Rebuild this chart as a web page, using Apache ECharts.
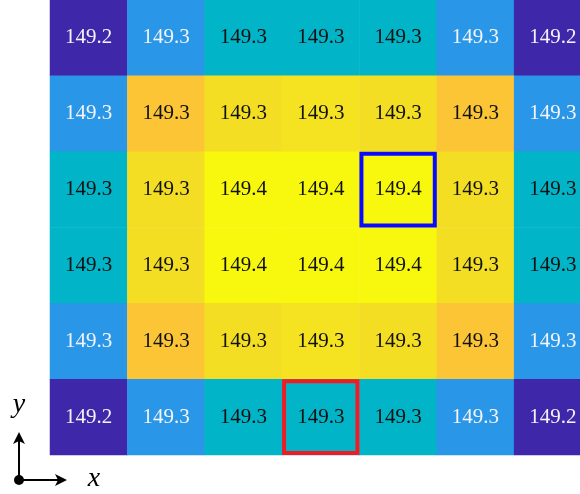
<!DOCTYPE html>
<html>
<head>
<meta charset="utf-8">
<script src="https://cdn.jsdelivr.net/npm/echarts@6/dist/echarts.min.js"></script>
<style>
  html, body { margin: 0; padding: 0; background: #ffffff; overflow: hidden; }
  /* the last column runs past the right edge of the window */
  #chart { width: 592px; height: 494px; }
</style>
</head>
<body>
<div id="chart"></div>
<script>
// Column and row indices of the field grid (row 0 is drawn at the top)
const xCategories = ['0', '1', '2', '3', '4', '5', '6'];
const yCategories = ['0', '1', '2', '3', '4', '5'];

// Field values, one array per row, top to bottom
const row0 = [149.22, 149.26, 149.30, 149.30, 149.30, 149.26, 149.22];
const row1 = [149.26, 149.33, 149.34, 149.343, 149.34, 149.33, 149.26];
const row2 = [149.30, 149.34, 149.37, 149.37, 149.37, 149.34, 149.30];
const row3 = [149.30, 149.34, 149.37, 149.37, 149.37, 149.34, 149.30];
const row4 = [149.26, 149.33, 149.34, 149.343, 149.34, 149.33, 149.26];
const row5 = [149.22, 149.26, 149.30, 149.30, 149.30, 149.26, 149.22];
const rows = [row0, row1, row2, row3, row4, row5];

// Highlighted cells: [column, row]
const blueCell = [4, 2];
const redCell = [3, 5];

const cellData = [];
rows.forEach((row, r) => {
  row.forEach((v, c) => {
    cellData.push({
      value: [c, r, v],
      label: { color: v < 149.28 ? '#f4f4f8' : '#111111' }
    });
  });
});

const chart = echarts.init(document.getElementById('chart'), null, { renderer: 'canvas' });

chart.setOption({
  animation: false,
  backgroundColor: '#ffffff',
  grid: { left: 50, top: 0, width: 541.5, height: 455, containLabel: false },
  xAxis: {
    type: 'category', data: xCategories, show: false,
    axisLine: { show: false }, axisTick: { show: false }, splitLine: { show: false }
  },
  yAxis: {
    type: 'category', data: yCategories, inverse: true, show: false,
    axisLine: { show: false }, axisTick: { show: false }, splitLine: { show: false }
  },
  visualMap: {
    type: 'piecewise',
    show: false,
    dimension: 2,
    seriesIndex: 0,
    pieces: [
      { lt: 149.24, color: '#3e27a9' },
      { gte: 149.24, lt: 149.28, color: '#2996e7' },
      { gte: 149.28, lt: 149.32, color: '#02b4c7' },
      { gte: 149.32, lt: 149.335, color: '#fcc535' },
      { gte: 149.335, lt: 149.342, color: '#f3de24' },
      { gte: 149.342, lt: 149.35, color: '#f5e322' },
      { gte: 149.35, color: '#f8f80f' }
    ]
  },
  series: [
    {
      type: 'heatmap',
      data: cellData,
      label: {
        show: true,
        fontFamily: 'Liberation Serif',
        fontSize: 21,
        formatter: p => p.value[2].toFixed(1)
      },
      itemStyle: { borderWidth: 0 },
      emphasis: { disabled: true }
    },
    {
      type: 'custom',
      coordinateSystem: 'cartesian2d',
      silent: true,
      z: 5,
      data: [
        { value: blueCell },
        { value: redCell }
      ],
      renderItem: (params, api) => {
        const c = api.coord([api.value(0), api.value(1)]);
        const s = api.size([1, 1]);
        const lw = 4;
        const stroke = params.dataIndex === 0 ? '#0a0aff' : '#ee1c24';
        return {
          type: 'rect',
          shape: {
            x: c[0] - s[0] / 2 + lw / 2,
            y: c[1] - s[1] / 2 + lw / 2,
            width: s[0] - lw,
            height: s[1] - lw
          },
          style: { fill: null, stroke: stroke, lineWidth: lw }
        };
      }
    }
  ],
  graphic: [
    // coordinate frame glyph in the lower-left corner
    { type: 'line', shape: { x1: 19, y1: 480, x2: 19, y2: 440 }, style: { stroke: '#000', lineWidth: 2 } },
    { type: 'line', shape: { x1: 19, y1: 480, x2: 60, y2: 480 }, style: { stroke: '#000', lineWidth: 2 } },
    { type: 'polygon', shape: { points: [[19, 432], [13, 444], [19, 441], [25, 444]] }, style: { fill: '#000' } },
    { type: 'polygon', shape: { points: [[67, 480], [55, 474], [58, 480], [55, 486]] }, style: { fill: '#000' } },
    { type: 'circle', shape: { cx: 19, cy: 480, r: 5 }, style: { fill: '#000' } },
    { type: 'text', x: 19, y: 405, style: { text: 'y', fontFamily: 'Liberation Serif', fontStyle: 'italic', fontSize: 28, fill: '#000', align: 'center', verticalAlign: 'middle' } },
    { type: 'text', x: 94, y: 479, style: { text: 'x', fontFamily: 'Liberation Serif', fontStyle: 'italic', fontSize: 28, fill: '#000', align: 'center', verticalAlign: 'middle' } }
  ]
});
</script>
</body>
</html>
